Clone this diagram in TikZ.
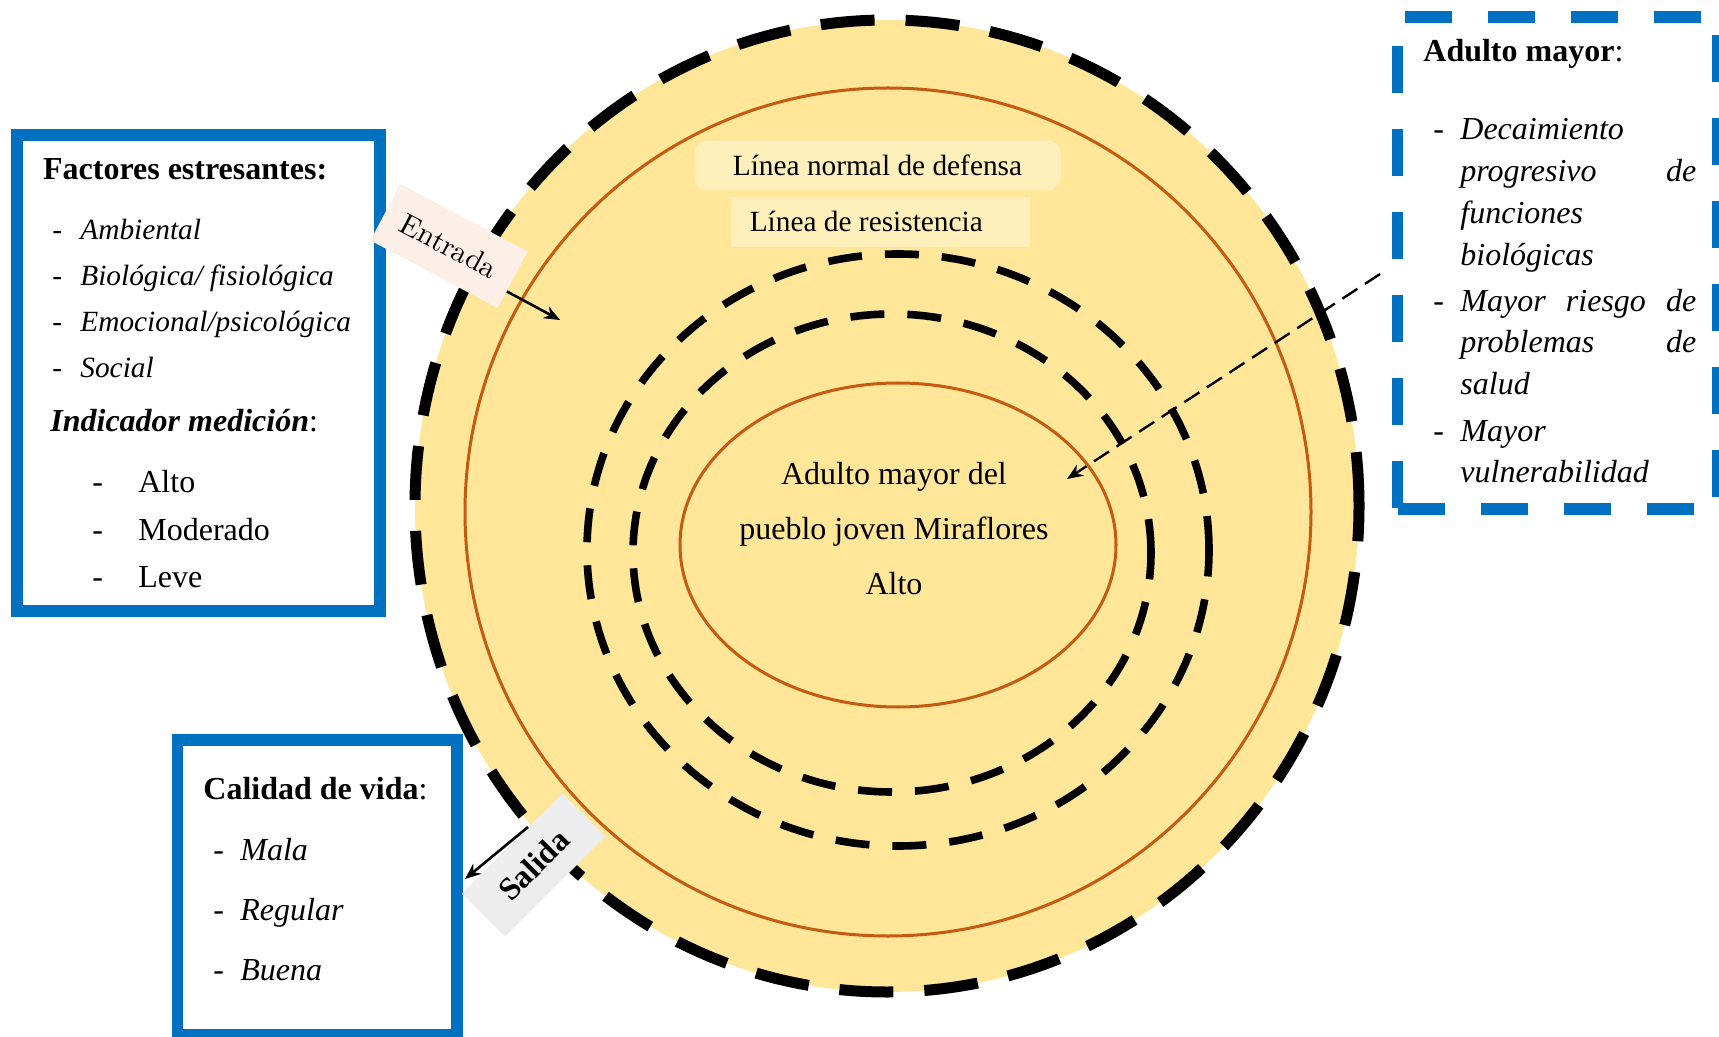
\documentclass[tikz,border=0pt]{standalone}
\usepackage{fontspec}
\setmainfont{Liberation Serif}
\newfontfamily\lmfont{lmroman10-regular.otf}
\usetikzlibrary{arrows.meta,calc}
\definecolor{azul}{HTML}{0070C0}
\definecolor{amarillo}{HTML}{FFE699}
\definecolor{naranja}{HTML}{C55A11}
\definecolor{crema}{HTML}{FFEFBB}
\definecolor{rosado}{HTML}{FCEFE7}
\definecolor{gris}{HTML}{EDEDED}
\newcommand{\grande}{\fontsize{16}{19}\selectfont}
\newcommand{\chico}{\fontsize{14.67}{17}\selectfont}

\begin{document}
\begin{tikzpicture}[x=0.5pt, y=-0.5pt,
    txt/.style={anchor=base west, inner sep=0pt},
    caja/.style={draw=azul, fill=white, line width=5.85pt, inner sep=0pt},
    lineabox/.style={fill=crema, font=\chico, inner sep=0pt},
    anillo/.style={line width=3.8pt, dash pattern=on 17pt off 11.5pt},
    flecha/.style={line width=1.3pt, -{Stealth[length=8pt, width=6.5pt]}}]

    \useasboundingbox (0,0) rectangle (1719,1037);

    % anillos del modelo
    \draw[fill=amarillo, line width=5.5pt, dash pattern=on 27pt off 15.5pt] (887,506) ellipse [x radius=236pt, y radius=243pt];
    \draw[naranja, line width=1.5pt] (888,512) ellipse [x radius=211.5pt, y radius=212pt];
    \draw[anillo] (898,550) ellipse [x radius=155.5pt, y radius=148pt];
    \draw[anillo] (892,553) ellipse [x radius=129.5pt, y radius=119.5pt];
    \draw[naranja, line width=1.5pt] (898,545) ellipse [x radius=109pt, y radius=81pt];

    \node[lineabox, rounded corners=6pt, minimum width=183pt, minimum height=25pt] (defensa) at (877.5,165.5) {L\'inea normal de defensa};
    \node[lineabox, minimum width=149.7pt, minimum height=25pt] (resist) at (880.3,221.7) {L\'inea de resistencia\hspace*{14pt}};
    \node[align=center, inner sep=0pt, font=\fontsize{16}{27.5}\selectfont] (centro) at (894,529) {Adulto mayor del\\ pueblo joven Miraflores\\ Alto};

    % cuadros
    \node[caja, minimum width=181.5pt, minimum height=238pt] (factores) at (198.5,373) {};
    \node[caja, minimum width=139.75pt, minimum height=147.5pt] (calidad) at (317.25,887.5) {};
    \node[caja, dash pattern=on 23.5pt off 18pt, minimum width=160.25pt, minimum height=246pt] (amayor) at (1557.75,263) {};

    \node[txt, font=\grande\bfseries] (fe) at (42.7,180) {Factores estresantes:};
    \node[txt, font=\chico\itshape] (f1) at (52,240) {\makebox[14pt][l]{\upshape -}Ambiental};
    \node[txt, font=\chico\itshape] (f2) at (52,286) {\makebox[14pt][l]{\upshape -}Biol\'ogica/ fisiol\'ogica};
    \node[txt, font=\chico\itshape] (f3) at (52,332) {\makebox[14pt][l]{\upshape -}Emocional/psicol\'ogica};
    \node[txt, font=\chico\itshape] (f4) at (52,378) {\makebox[14pt][l]{\upshape -}Social};
    \node[txt, font=\grande] (im) at (50,432) {\textbf{\textit{Indicador medici\'on}}:};
    \node[txt, font=\grande] (n1) at (92,493) {\makebox[23pt][l]{-}Alto};
    \node[txt, font=\grande] (n2) at (92,540) {\makebox[23pt][l]{-}Moderado};
    \node[txt, font=\grande] (n3) at (92,587) {\makebox[23pt][l]{-}Leve};

    \node[txt, font=\grande] (am) at (1423,62) {\textbf{Adulto mayor}:};
    \node[txt, font=\grande\itshape] (a1) at (1433,140) {\makebox[13.5pt][l]{\upshape -}Decaimiento};
    \node[txt, font=\grande\itshape] (a2) at (1460,182) {\makebox[118pt][s]{progresivo de}};
    \node[txt, font=\grande\itshape] (a3) at (1460,224) {funciones};
    \node[txt, font=\grande\itshape] (a4) at (1460,266) {biol\'ogicas};
    \node[txt, font=\grande\itshape] (a5) at (1433,312) {\makebox[13.5pt][l]{\upshape -}\makebox[118pt][s]{Mayor riesgo de}};
    \node[txt, font=\grande\itshape] (a6) at (1460,353) {\makebox[118pt][s]{problemas de}};
    \node[txt, font=\grande\itshape] (a7) at (1460,395) {salud};
    \node[txt, font=\grande\itshape] (a8) at (1433,442) {\makebox[13.5pt][l]{\upshape -}Mayor};
    \node[txt, font=\grande\itshape] (a9) at (1460,482) {vulnerabilidad};

    \node[txt, font=\grande] (cv) at (203,799) {\textbf{Calidad de vida}:};
    \node[txt, font=\grande\itshape] (c1) at (213,860) {\makebox[13.5pt][l]{\upshape -}Mala};
    \node[txt, font=\grande\itshape] (c2) at (213,920) {\makebox[13.5pt][l]{\upshape -}Regular};
    \node[txt, font=\grande\itshape] (c3) at (213,980) {\makebox[13.5pt][l]{\upshape -}Buena};

    % entrada y salida
    \node[fill=rosado, rotate=-28, minimum width=72pt, minimum height=32pt, font=\lmfont\fontsize{14.8}{17}\selectfont] (entrada) at (449,246) {Entrada};
    \node[fill=gris, rotate=45, minimum width=71pt, minimum height=30.5pt, font=\grande\bfseries] (salida) at (533.7,865) {Salida};

    \coordinate (entin) at (560,320);
    \coordinate (salout) at (465,879);
    \coordinate (dashend) at (1067,479);
    \draw[flecha] ($(entrada.east)!0.4!(entrada.south east)$) -- (entin);
    \draw[flecha] ($(salida.north west)!0.66!(salida.north east)$) -- (salout);
    \draw[flecha, line width=1.2pt, dash pattern=on 9pt off 4.5pt] ([xshift=-5.8pt, yshift=-5.5pt]amayor.west) -- (dashend);

\end{tikzpicture}
\end{document}
